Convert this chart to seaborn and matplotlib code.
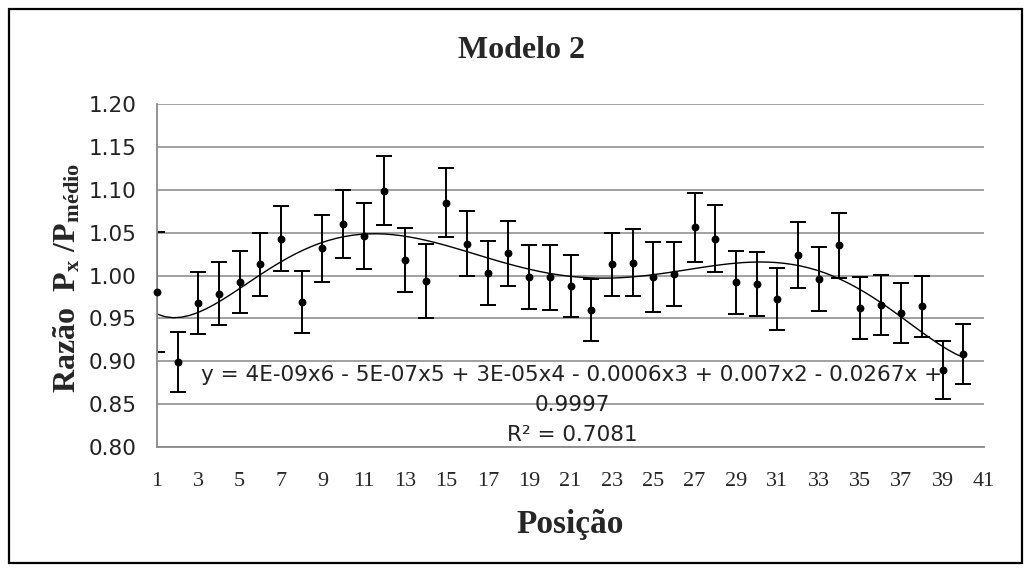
import numpy as np
import pandas as pd
import matplotlib
matplotlib.use("Agg")
import matplotlib.pyplot as plt
from matplotlib.patches import Rectangle
import seaborn as sns

# data
posicao = list(range(1, 41))
razao = [0.981, 0.899, 0.968, 0.979, 0.992, 1.013, 1.043, 0.969, 1.032, 1.060,
         1.046, 1.099, 1.018, 0.994, 1.085, 1.037, 1.003, 1.026, 0.998, 0.998,
         0.988, 0.960, 1.013, 1.015, 0.998, 1.002, 1.056, 1.043, 0.992, 0.990,
         0.973, 1.024, 0.996, 1.035, 0.962, 0.966, 0.956, 0.964, 0.890, 0.908]
erro = [0.070, 0.035, 0.036, 0.037, 0.036, 0.037, 0.038, 0.036, 0.039, 0.040,
        0.038, 0.040, 0.037, 0.043, 0.040, 0.038, 0.037, 0.038, 0.037, 0.038,
        0.036, 0.036, 0.037, 0.039, 0.041, 0.037, 0.040, 0.039, 0.037, 0.037,
        0.036, 0.038, 0.037, 0.038, 0.036, 0.035, 0.035, 0.036, 0.034, 0.035]
xticks = list(range(1, 42, 2))
yticks = [0.80, 0.85, 0.90, 0.95, 1.00, 1.05, 1.10, 1.15, 1.20]

equacao = ("y = 4E-09x6 - 5E-07x5 + 3E-05x4 - 0.0006x3 + 0.007x2 - 0.0267x +\n"
           "0.9997\nR² = 0.7081")

df = pd.DataFrame({"Posicao": posicao, "Razao": razao, "Erro": erro})

sns.set_style("white")
plt.rcParams["font.family"] = ["DejaVu Sans"]
plt.rcParams["mathtext.fontset"] = "custom"
plt.rcParams["mathtext.rm"] = "Liberation Serif:bold"
plt.rcParams["mathtext.bf"] = "Liberation Serif:bold"
plt.rcParams["mathtext.it"] = "Liberation Serif:bold"

W, H = 1032, 571
fig = plt.figure(figsize=(W / 100, H / 100), dpi=100)
ax = fig.add_axes([157 / W, 1 - 447 / H, (984 - 157) / W, (447 - 104) / H])

# grid
for yv in yticks:
    ax.axhline(yv, color="#9a9a9a", lw=1.3, zorder=0)

# error bars
ax.errorbar(df["Posicao"], df["Razao"], yerr=df["Erro"], fmt="none",
            ecolor="black", elinewidth=1.4, capsize=5.5, capthick=1.4, zorder=2)

# 6th order trendline
sns.regplot(data=df, x="Posicao", y="Razao", order=6, ci=None, scatter=False,
            line_kws={"color": "black", "lw": 1.0}, ax=ax)

sns.scatterplot(data=df, x="Posicao", y="Razao", color="black", s=32,
                edgecolor="black", linewidth=0, zorder=4, clip_on=False, ax=ax)

ax.set_xlim(1, 41)
ax.set_ylim(0.80, 1.20)
ax.set_xticks(xticks)
ax.set_yticks(yticks)
ax.set_yticklabels([f"{v:.2f}" for v in yticks])
ax.tick_params(axis="y", length=0, pad=15, labelsize=15.5, labelcolor="#222222")
ax.tick_params(axis="x", length=0, pad=18, labelsize=16)
for lab in ax.get_xticklabels():
    lab.set_fontfamily("Liberation Serif")

for s in ["top", "right"]:
    ax.spines[s].set_visible(False)
for s in ["left", "bottom"]:
    ax.spines[s].set_color("#8a8a8a")
    ax.spines[s].set_linewidth(1.3)

ax.set_xlabel("Posição", fontfamily="Liberation Serif", fontweight="bold",
              fontsize=24, va="center")
ax.xaxis.set_label_coords(0.5, -0.227)
ax.set_ylabel(r"Razão  $\mathbf{P_x\ /P_{médio}}$", fontfamily="Liberation Serif",
              fontweight="bold", fontsize=23, va="center")
ax.yaxis.set_label_coords(-0.109, 0.493)

fig.text(521 / W, 1 - 50 / H, "Modelo 2", ha="center", va="center",
         fontfamily="Liberation Serif", fontweight="bold", fontsize=23)

fig.text(572 / W, 1 - 405 / H, equacao, ha="center", va="center",
         multialignment="center", fontsize=15.5, linespacing=1.6, color="#222222")

fig.patches.append(Rectangle((9 / W, 1 - 563 / H), (1022 - 9) / W, (563 - 9) / H,
                             transform=fig.transFigure, fill=False,
                             edgecolor="black", lw=1.6))

fig.savefig("out.png", dpi=100)
